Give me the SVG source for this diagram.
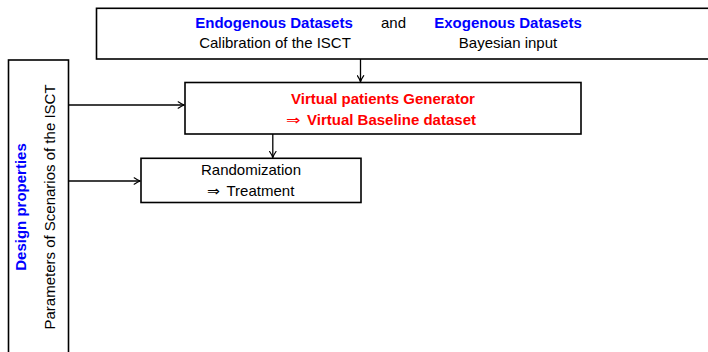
<svg xmlns="http://www.w3.org/2000/svg" width="708" height="352" viewBox="0 0 708 352">
  <style>
    .box { fill: #ffffff; stroke: #000000; stroke-width: 1.6; }
    .edge { fill: none; stroke: #000000; stroke-width: 1.3; marker-end: url(#arrow); }
    text { font-family: "Liberation Sans", Arial, Helvetica, sans-serif; font-size: 15px; text-anchor: middle; fill: #000000; }
    .blue { fill: #0000ff; font-weight: bold; }
    .red { fill: #ff0000; font-weight: bold; }
    .start { text-anchor: start; }
    .implies { font-family: "DejaVu Sans", sans-serif; font-weight: normal; font-size: 14px; text-anchor: start; }
  </style>
  <defs>
    <marker id="arrow" viewBox="-7 -4 8 8" refX="0" refY="0" markerWidth="8" markerHeight="8" markerUnits="userSpaceOnUse" orient="auto">
      <path d="M-6,-3.2 Q-2.5,-0.8 0,0 Q-2.5,0.8 -6,3.2" fill="none" stroke="#000000" stroke-width="1.2" stroke-linecap="round" stroke-linejoin="round"/>
    </marker>
  </defs>

  <!-- input datasets (box runs past the right edge) -->
  <g id="datasets">
    <rect class="box" x="96.5" y="8.3" width="640" height="50.7"/>
    <text class="blue" x="274" y="27.7">Endogenous Datasets</text>
    <text x="393.5" y="27.7">and</text>
    <text class="blue" x="508" y="27.7">Exogenous Datasets</text>
    <text x="275" y="48.3">Calibration of the ISCT</text>
    <text x="508" y="48.3">Bayesian input</text>
  </g>

  <!-- design properties (vertical side box, runs past the bottom edge) -->
  <g id="design">
    <rect class="box" x="8.5" y="60" width="60" height="320"/>
    <text class="blue" transform="translate(26,207) rotate(-90)">Design properties</text>
    <text transform="translate(54.5,207) rotate(-90)">Parameters of Scenarios of the ISCT</text>
  </g>

  <!-- virtual patients generator -->
  <g id="generator">
    <rect class="box" x="185" y="82.5" width="396" height="51.5"/>
    <text class="red" x="383" y="104.3">Virtual patients Generator</text>
    <text class="implies" x="286" y="124.8" fill="#ff0000" style="fill:#ff0000" textLength="14.5" lengthAdjust="spacingAndGlyphs">⇒</text>
    <text class="red start" x="307" y="124.8">Virtual Baseline dataset</text>
  </g>

  <!-- randomization -->
  <g id="randomization">
    <rect class="box" x="141" y="158.3" width="220" height="44.2"/>
    <text x="251" y="174.5">Randomization</text>
    <text class="implies" x="207" y="196" textLength="13" lengthAdjust="spacingAndGlyphs">⇒</text>
    <text class="start" x="226.5" y="196">Treatment</text>
  </g>

  <!-- connectors -->
  <g id="connectors">
    <path class="edge" d="M360.5,59 V81.7"/>
    <path class="edge" d="M272.8,134 V157.5"/>
    <path class="edge" d="M68.5,105 H184.2"/>
    <path class="edge" d="M68.5,181 H140.2"/>
  </g>
</svg>
